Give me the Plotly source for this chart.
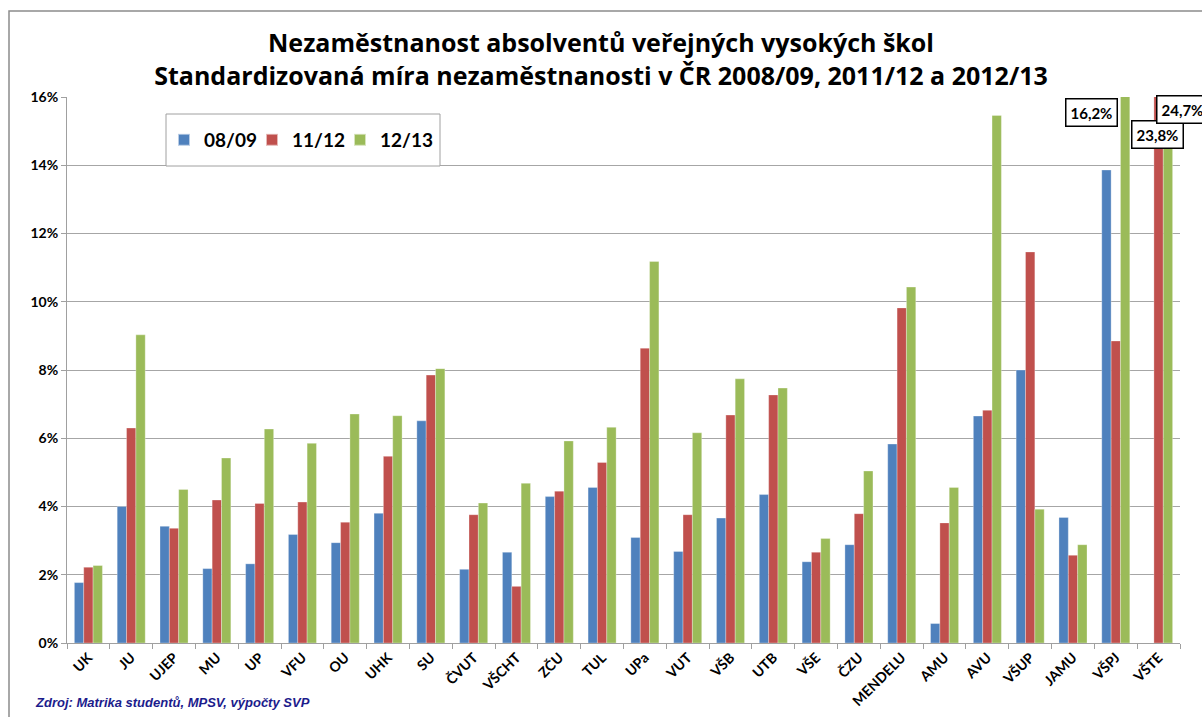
import plotly.graph_objects as go

categories = ["UK", "JU", "UJEP", "MU", "UP", "VFU", "OU", "UHK", "SU", "ČVUT", "VŠCHT",
              "ZČU", "TUL", "UPa", "VUT", "VŠB", "UTB", "VŠE", "ČZU", "MENDELU", "AMU",
              "AVU", "VŠUP", "JAMU", "VŠPJ", "VŠTE"]

s0809 = [1.77, 4.00, 3.42, 2.18, 2.32, 3.18, 2.94, 3.80, 6.51, 2.16, 2.66,
         4.29, 4.56, 3.09, 2.68, 3.66, 4.35, 2.38, 2.88, 5.83, 0.57,
         6.65, 8.00, 3.68, 13.86, None]
s1112 = [2.22, 6.30, 3.36, 4.19, 4.09, 4.13, 3.54, 5.47, 7.85, 3.76, 1.66,
         4.45, 5.29, 8.64, 3.76, 6.68, 7.27, 2.66, 3.79, 9.82, 3.52,
         6.82, 11.46, 2.57, 8.85, 23.8]
s1213 = [2.27, 9.03, 4.50, 5.42, 6.27, 5.85, 6.71, 6.66, 8.04, 4.10, 4.68,
         5.92, 6.32, 11.18, 6.16, 7.74, 7.47, 3.06, 5.04, 10.43, 4.56,
         15.46, 3.92, 2.88, 16.2, 24.7]

series_names = ["08/09", "11/12", "12/13"]
series_colors = ["#4F81BD", "#C0504D", "#9BBB59"]

y_ticks = [0, 2, 4, 6, 8, 10, 12, 14, 16]
y_tick_labels = ["0%", "2%", "4%", "6%", "8%", "10%", "12%", "14%", "16%"]

# clipped bars get value labels
clipped_labels = [("VŠPJ", 16.2, -24, 15.55), ("VŠTE", 23.8, -1, 14.89), ("VŠTE", 24.7, 24, 15.62)]

title_text = ("<b>Nezaměstnanost absolventů veřejných vysokých škol</b><br>"
              "<b>Standardizovaná míra nezaměstnanosti v ČR 2008/09, 2011/12 a 2012/13</b>")
source_text = "<b><i>Zdroj: Matrika studentů, MPSV, výpočty SVP</i></b>"

W, H = 1202, 717
L, R, T, B = 67, 22, 97, 74
pw, ph = W - L - R, H - T - B

def px_x(p):
    return (p - L) / pw

def px_y(p):
    return (H - B - p) / ph

fig = go.Figure()
for name, vals, col in zip(series_names, [s0809, s1112, s1213], series_colors):
    fig.add_trace(go.Bar(x=categories, y=vals, name=name, marker_color=col,
                         marker_line=dict(color="rgba(255,255,255,0.6)", width=0.5)))
# empty spacer entry so the last legend label is not clipped
fig.add_trace(go.Scatter(x=[None], y=[None], mode="markers", name=" ",
                         marker=dict(color="rgba(0,0,0,0)"), hoverinfo="skip"))

font_main = "Lato, 'Open Sans', sans-serif"

annotations = []
for cat, val, xs, ypos in clipped_labels:
    annotations.append(dict(x=cat, y=ypos, xref="x", yref="y", xshift=xs,
                            text=f"{val:.1f}".replace(".", ",") + "%",
                            showarrow=False,
                            font=dict(family=font_main, size=15, color="black", weight="bold"),
                            bgcolor="white", bordercolor="black", borderwidth=1.5, borderpad=4))
annotations.append(dict(x=px_x(33), y=px_y(702), xref="paper", yref="paper", xanchor="left",
                        yanchor="middle", text=source_text, showarrow=False,
                        font=dict(family="'Liberation Sans', Arial, sans-serif", size=13, color="#1C1C8C")))

shapes = [
    dict(type="rect", xref="paper", yref="paper", x0=px_x(9), x1=px_x(1260), y0=px_y(760), y1=px_y(11),
         line=dict(color="#8C8C8C", width=1.5), fillcolor="rgba(0,0,0,0)", layer="below"),
    dict(type="rect", xref="paper", yref="paper", x0=px_x(166), x1=px_x(440), y0=px_y(166), y1=px_y(114),
         line=dict(color="#A0A0A0", width=1), fillcolor="white", layer="above"),
]

fig.update_layout(
    width=W, height=H, autosize=False,
    margin=dict(l=L, r=R, t=T, b=B, autoexpand=False),
    paper_bgcolor="white", plot_bgcolor="white",
    barmode="group", bargap=0.345, bargroupgap=0,
    title=dict(text=title_text, x=0.5, xanchor="center", y=1 - 52 / H, yanchor="middle",
               font=dict(family="'Open Sans', sans-serif", size=25, color="black")),
    legend=dict(orientation="h", x=px_x(164), xanchor="left", y=px_y(140), yanchor="middle",
                font=dict(family=font_main, size=19, color="black", weight="bold"),
                bgcolor="rgba(0,0,0,0)", borderwidth=0, entrywidth=43, entrywidthmode="pixels",
                itemsizing="constant"),
    xaxis=dict(range=[-0.5, len(categories) - 0.5], autorange=False,
               tickangle=-45, tickfont=dict(family=font_main, size=14, color="black", weight="bold"),
               showline=True, linecolor="#A0A0A0", linewidth=1, ticks="outside", tickson="boundaries",
               ticklen=5, tickcolor="#A0A0A0", showgrid=False, automargin=False),
    yaxis=dict(range=[0, 16], tickvals=y_ticks, ticktext=y_tick_labels,
               tickfont=dict(family=font_main, size=14, color="black", weight="bold"),
               showline=True, linecolor="#A0A0A0", linewidth=1, ticks="outside", ticklen=5,
               tickcolor="#A0A0A0", showgrid=True, gridcolor="#A6A6A6", gridwidth=1, zeroline=False,
               automargin=False),
    annotations=annotations,
    shapes=shapes,
)

fig.write_html("out.html", config={"displayModeBar": False, "responsive": False},
               post_script="document.body.style.margin='0';document.body.style.overflow='hidden';")
